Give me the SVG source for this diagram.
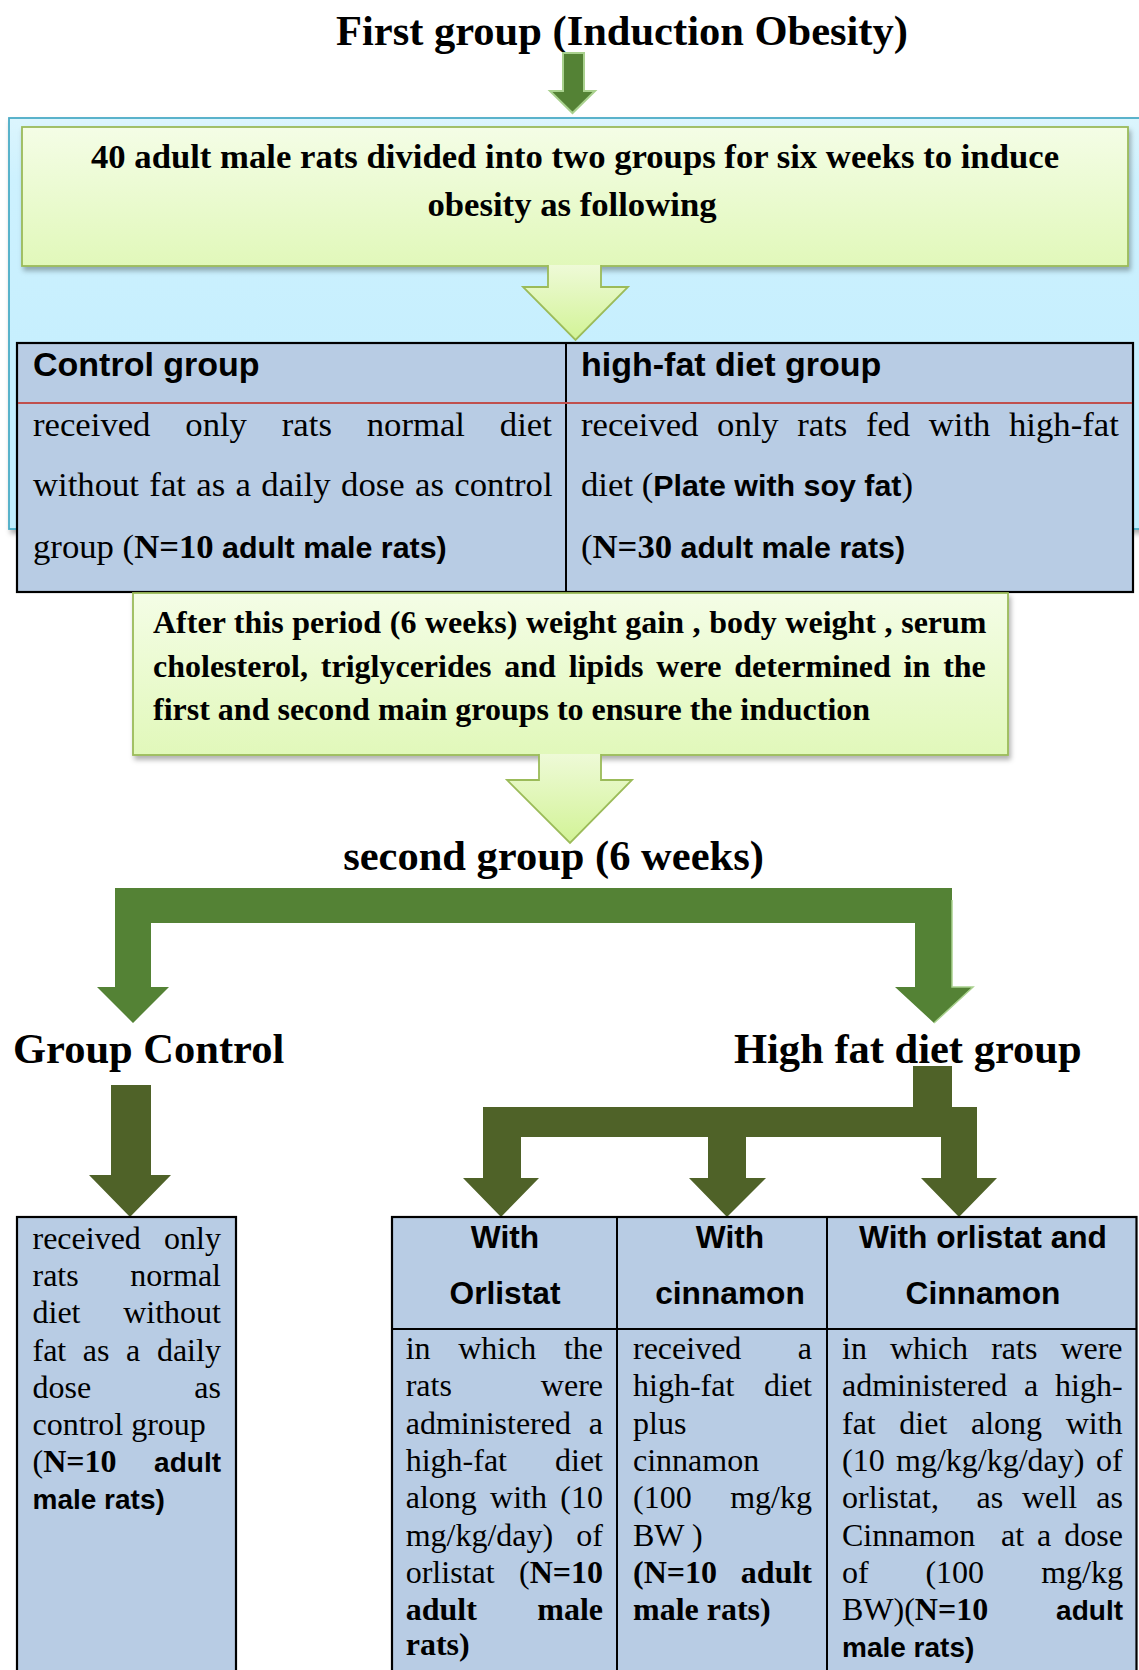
<svg xmlns="http://www.w3.org/2000/svg" width="1139" height="1670" viewBox="0 0 1139 1670">
<defs>
<style>
.r{font-family:"Liberation Serif","Times New Roman",serif;fill:#000}
.b{font-family:"Liberation Serif","Times New Roman",serif;font-weight:bold;fill:#000}
.sb{font-family:"Liberation Sans",Arial,sans-serif;font-weight:bold;fill:#000}
.cell{fill:#b8cce4;stroke:#000;stroke-width:2.2}
.gbox{fill:url(#gGreen);stroke:#9bbb59;stroke-width:1.8}
.larrow{fill:url(#gArrow);stroke:#9bbb59;stroke-width:1.8}
.darrow{fill:#548235}
.oarrow{fill:#4f6228}
.f347{font-size:34.7px}
.f32{font-size:32px}
</style>
<linearGradient id="gGreen" x1="0" y1="0" x2="0" y2="1">
<stop offset="0" stop-color="#f4fde6"/>
<stop offset="1" stop-color="#e1f8ba"/>
</linearGradient>
<linearGradient id="gArrow" x1="0" y1="0" x2="0" y2="1">
<stop offset="0" stop-color="#eefad7"/>
<stop offset="1" stop-color="#d2f396"/>
</linearGradient>
<linearGradient id="gBlue" x1="0" y1="0" x2="0" y2="1">
<stop offset="0" stop-color="#dcf5fd"/>
<stop offset="0.15" stop-color="#cdf1fe"/>
<stop offset="1" stop-color="#c0edfe"/>
</linearGradient>
<filter id="sh" x="-5%" y="-10%" width="110%" height="130%">
<feDropShadow dx="2" dy="4" stdDeviation="2.5" flood-color="#000" flood-opacity="0.3"/>
</filter>
</defs>

<rect width="1139" height="1670" fill="#fff"/>

<g id="title">
<text class="b" x="622" y="45" text-anchor="middle" font-size="42.5">First group (Induction Obesity)</text>
</g>

<g id="panel">
<rect x="9" y="118" width="1140" height="411" fill="url(#gBlue)" stroke="#4bacc6" stroke-width="1.8" filter="url(#sh)"/>
</g>

<g id="box1">
<rect class="gbox" x="22" y="127" width="1106" height="139" filter="url(#sh)"/>
<text class="b f347" x="575" y="168" text-anchor="middle">40 adult male rats divided into two groups for six weeks to induce</text>
<text class="b f347" x="572" y="216" text-anchor="middle">obesity as following</text>
</g>

<g id="table1">
<rect class="cell" x="17" y="343" width="1116" height="249"/>
<line x1="566" y1="343" x2="566" y2="592" stroke="#000" stroke-width="2"/>
<line x1="18" y1="403" x2="1132" y2="403" stroke="#c0504d" stroke-width="2"/>
<text class="sb" x="33" y="376" font-size="34px">Control group</text>
<text class="sb" x="581" y="376" font-size="34px">high-fat diet group</text>
<text class="r f347" x="33" y="436" style="word-spacing:26.16px">received only rats normal diet</text>
<text class="r f347" x="33" y="496" style="word-spacing:1.7px">without fat as a daily dose as control</text>
<text class="r f347" x="33" y="558">group (<tspan class="b">N=10</tspan><tspan class="sb" font-size="30.4px"> adult male rats)</tspan></text>
<text class="r f347" x="581" y="436" style="word-spacing:9.9px">received only rats fed with high-fat</text>
<text class="r f347" x="581" y="496">diet (<tspan class="sb" font-size="30.4px">Plate with soy fat</tspan>)</text>
<text class="r f347" x="581" y="558">(<tspan class="b">N=30</tspan><tspan class="sb" font-size="30.4px"> adult male rats)</tspan></text>
</g>

<g id="box2">
<rect class="gbox" x="133" y="593" width="875" height="162" filter="url(#sh)"/>
<text class="b f32" x="153" y="633" style="word-spacing:0.6px">After this period (6 weeks) weight gain , body weight , serum</text>
<text class="b f32" x="153" y="677" style="word-spacing:4.87px">cholesterol, triglycerides and lipids were determined in the</text>
<text class="b f32" x="153" y="720">first and second main groups to ensure the induction</text>
</g>

<g id="connectors">
<path class="darrow" d="M563,53 H584 V91 H595 L572.5,113 L550,91 H563 Z" stroke="#a9d18e" stroke-width="2"/>
<path class="larrow" d="M548,265 V287 H523 L575.5,340 L628,287 H601 V265"/>
<path class="larrow" d="M539,754 V780 H507 L570,843 L632,780 H601 V754"/>
<path class="darrow" d="M115,888 H952 V987 H973 L934,1023 L895,987 H915 V923 H151 V987 H169 L133,1023 L97,987 H115 Z"/>
<path d="M952,900 V987 H973 L934,1023" fill="none" stroke="#a9d18e" stroke-width="1.5"/>
<path class="oarrow" d="M111,1085 H151 V1175 H171 L130,1217 L89,1175 H111 Z"/>
<path class="oarrow" d="M913,1066 H952 V1107 H977 V1178 H997 L959,1217 L921,1178 H941 V1137 H746 V1178 H766 L727,1217 L689,1178 H708 V1137 H521 V1178 H539 L501,1217 L463,1178 H483 V1107 H913 Z"/>
</g>

<g id="second-title">
<text class="b" x="553.5" y="870" text-anchor="middle" font-size="42.5">second group (6 weeks)</text>
</g>

<g id="group-control-label">
<text class="b" x="13" y="1063" font-size="42.5">Group Control</text>
</g>

<g id="high-fat-label">
<text class="b" x="734" y="1063" font-size="42.5">High fat diet group</text>
</g>

<g id="control-box">
<rect class="cell" x="17" y="1217" width="219" height="470"/>
<text class="r f32" x="32.5" y="1249">received</text><text class="r f32" x="221" y="1249" text-anchor="end">only</text>
<text class="r f32" x="32.5" y="1286.2">rats</text><text class="r f32" x="221" y="1286.2" text-anchor="end">normal</text>
<text class="r f32" x="32.5" y="1323.4">diet</text><text class="r f32" x="221" y="1323.4" text-anchor="end">without</text>
<text class="r f32" x="32.5" y="1360.6" style="word-spacing:8.6px">fat as a daily</text>
<text class="r f32" x="32.5" y="1397.8">dose</text><text class="r f32" x="221" y="1397.8" text-anchor="end">as</text>
<text class="r f32" x="32.5" y="1435">control group</text>
<text class="r f32" x="32.5" y="1472.2">(<tspan class="b">N=10</tspan></text><text class="sb" x="221" y="1472.2" text-anchor="end" font-size="28px">adult</text>
<text class="sb" x="32.5" y="1509.4" font-size="28px">male rats)</text>
</g>

<g id="treatment-table">
<rect class="cell" x="392" y="1217" width="744.5" height="470"/>
<line x1="617" y1="1217" x2="617" y2="1680" stroke="#000" stroke-width="2"/>
<line x1="827" y1="1217" x2="827" y2="1680" stroke="#000" stroke-width="2"/>
<line x1="392" y1="1329" x2="1136.5" y2="1329" stroke="#000" stroke-width="2"/>

<g id="orlistat">
<text class="sb" x="505" y="1248" text-anchor="middle" font-size="31.7px">With</text>
<text class="sb" x="505" y="1304" text-anchor="middle" font-size="31.7px">Orlistat</text>
<text class="r f32" x="405.7" y="1359" style="word-spacing:19.55px">in which the</text>
<text class="r f32" x="405.7" y="1396.3">rats</text><text class="r f32" x="603" y="1396.3" text-anchor="end">were</text>
<text class="r f32" x="405.7" y="1433.6">administered</text><text class="r f32" x="603" y="1433.6" text-anchor="end">a</text>
<text class="r f32" x="405.7" y="1470.9">high-fat</text><text class="r f32" x="603" y="1470.9" text-anchor="end">diet</text>
<text class="r f32" x="405.7" y="1508.2" style="word-spacing:5.3px">along with (10</text>
<text class="r f32" x="405.7" y="1545.5">mg/kg/day)</text><text class="r f32" x="603" y="1545.5" text-anchor="end">of</text>
<text class="r f32" x="405.7" y="1582.8">orlistat</text><text class="r f32" x="603" y="1582.8" text-anchor="end">(<tspan class="b">N=10</tspan></text>
<text class="b f32" x="405.7" y="1620.1">adult</text><text class="b f32" x="603" y="1620.1" text-anchor="end">male</text>
<text class="b f32" x="405.7" y="1655.4">rats<tspan class="r">)</tspan></text>
</g>

<g id="cinnamon">
<text class="sb" x="730" y="1248" text-anchor="middle" font-size="31.7px">With</text>
<text class="sb" x="730" y="1304" text-anchor="middle" font-size="31.7px">cinnamon</text>
<text class="r f32" x="633" y="1359">received</text><text class="r f32" x="812" y="1359" text-anchor="end">a</text>
<text class="r f32" x="633" y="1396.3">high-fat</text><text class="r f32" x="812" y="1396.3" text-anchor="end">diet</text>
<text class="r f32" x="633" y="1433.6">plus</text>
<text class="r f32" x="633" y="1470.9">cinnamon</text>
<text class="r f32" x="633" y="1508.2">(100</text><text class="r f32" x="812" y="1508.2" text-anchor="end">mg/kg</text>
<text class="r f32" x="633" y="1545.5">BW )</text>
<text class="b f32" x="633" y="1582.8"><tspan class="r">(</tspan>N=10</text><text class="b f32" x="812" y="1582.8" text-anchor="end">adult</text>
<text class="b f32" x="633" y="1620.1">male rats<tspan class="r">)</tspan></text>
</g>

<g id="orlistat-cinnamon">
<text class="sb" x="983" y="1248" text-anchor="middle" font-size="31.7px">With orlistat and</text>
<text class="sb" x="983" y="1304" text-anchor="middle" font-size="31.7px">Cinnamon</text>
<text class="r f32" x="842" y="1359" style="word-spacing:15.03px">in which rats were</text>
<text class="r f32" x="842" y="1396.3" style="word-spacing:8.75px">administered a high-</text>
<text class="r f32" x="842" y="1433.6" style="word-spacing:15.6px">fat diet along with</text>
<text class="r f32" x="842" y="1470.9" style="word-spacing:3.4px">(10 mg/kg/kg/day) of</text>
<text class="r f32" x="842" y="1508.2">orlistat,</text><text class="r f32" x="976.5" y="1508.2">as</text><text class="r f32" x="1022" y="1508.2">well</text><text class="r f32" x="1123" y="1508.2" text-anchor="end">as</text>
<text class="r f32" x="842" y="1545.5">Cinnamon</text><text class="r f32" x="1001" y="1545.5">at</text><text class="r f32" x="1037" y="1545.5">a</text><text class="r f32" x="1123" y="1545.5" text-anchor="end">dose</text>
<text class="r f32" x="842" y="1582.8">of</text><text class="r f32" x="925.4" y="1582.8">(100</text><text class="r f32" x="1123" y="1582.8" text-anchor="end">mg/kg</text>
<text class="r f32" x="842" y="1620.1">BW)(<tspan class="b">N=10</tspan></text><text class="sb" x="1123" y="1620.1" text-anchor="end" font-size="28px">adult</text>
<text class="sb" x="842" y="1657.4" font-size="28px">male rats)</text>
</g>
</g>
</svg>
